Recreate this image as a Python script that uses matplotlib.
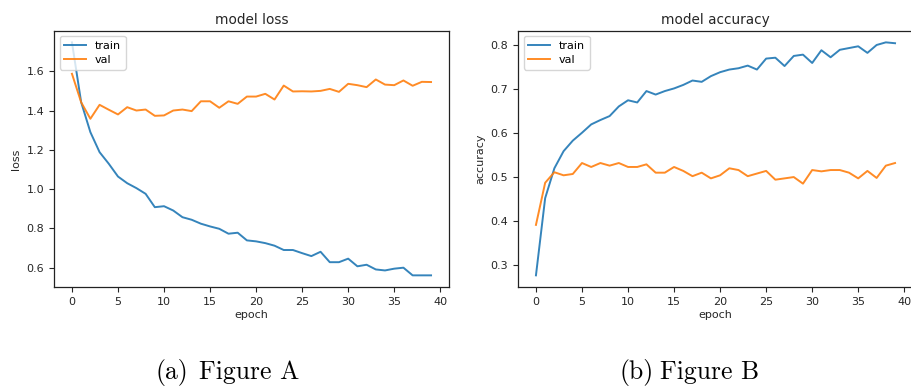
import matplotlib
matplotlib.use("Agg")
import matplotlib.pyplot as plt

epochs = list(range(40))

train_loss = [1.747, 1.442, 1.29, 1.188, 1.129, 1.064, 1.03, 1.005, 0.976, 0.908,
              0.913, 0.891, 0.857, 0.844, 0.824, 0.81, 0.798, 0.773, 0.778, 0.739,
              0.734, 0.725, 0.712, 0.69, 0.69, 0.674, 0.659, 0.681, 0.628, 0.628,
              0.646, 0.607, 0.615, 0.591, 0.586, 0.595, 0.6, 0.561, 0.561, 0.561]
val_loss = [1.587, 1.442, 1.358, 1.429, 1.404, 1.38, 1.417, 1.40, 1.405, 1.373,
            1.375, 1.40, 1.405, 1.397, 1.447, 1.447, 1.414, 1.447, 1.434, 1.471,
            1.471, 1.485, 1.456, 1.527, 1.497, 1.498, 1.497, 1.50, 1.51, 1.495,
            1.536, 1.529, 1.519, 1.558, 1.532, 1.529, 1.553, 1.526, 1.546, 1.545]

train_acc = [0.276, 0.452, 0.52, 0.559, 0.583, 0.601, 0.62, 0.63, 0.639, 0.661,
             0.675, 0.670, 0.696, 0.688, 0.696, 0.702, 0.71, 0.72, 0.717, 0.73,
             0.739, 0.745, 0.748, 0.754, 0.745, 0.77, 0.772, 0.753, 0.776, 0.779,
             0.76, 0.789, 0.773, 0.79, 0.794, 0.798, 0.783, 0.801, 0.807, 0.805]
val_acc = [0.391, 0.487, 0.511, 0.504, 0.507, 0.532, 0.523, 0.532, 0.526, 0.532,
           0.523, 0.523, 0.529, 0.51, 0.51, 0.523, 0.514, 0.502, 0.51, 0.497,
           0.504, 0.52, 0.516, 0.502, 0.508, 0.514, 0.494, 0.497, 0.5, 0.485,
           0.516, 0.513, 0.516, 0.516, 0.51, 0.497, 0.514, 0.498, 0.526, 0.532]

legend_labels = ["train", "val"]
titles = ["model loss", "model accuracy"]
ylabels = ["loss", "accuracy"]
caption_tags = ["(a)", "(b)"]
caption_texts = ["Figure A", "Figure B"]

W, H = 912, 386
fig = plt.figure(figsize=(W / 100, H / 100), dpi=100)

def px_axes(x0, y0, x1, y1):
    return fig.add_axes([x0 / W, 1 - y1 / H, (x1 - x0) / W, (y1 - y0) / H])

ax1 = px_axes(54, 30.7, 449, 287)
ax2 = px_axes(518, 30.7, 913, 287)

text_color = "#262626"
for ax, (tr, va), title, yl in zip([ax1, ax2], [(train_loss, val_loss), (train_acc, val_acc)], titles, ylabels):
    ax.plot(epochs, tr, color="#1f77b4", lw=1.4, label=legend_labels[0], alpha=0.9)
    ax.plot(epochs, va, color="#ff7f0e", lw=1.4, label=legend_labels[1], alpha=0.9)
    ax.set_title(title, fontsize=9.8, color=text_color, pad=5)
    ax.set_xlabel("epoch", fontsize=8, color=text_color, labelpad=2)
    ax.set_ylabel(yl, fontsize=8, color=text_color, labelpad=4)
    ax.tick_params(labelsize=8, colors=text_color, length=3.5, width=0.8)
    ax.set_xticks([0, 5, 10, 15, 20, 25, 30, 35, 40])
    for s in ax.spines.values():
        s.set_linewidth(0.9)
        s.set_color("#222222")
    ax.legend(loc="upper left", fontsize=8, handlelength=2.0, borderpad=0.4,
              labelspacing=0.4, handletextpad=0.8, borderaxespad=0.5)

ax1.set_yticks([0.6, 0.8, 1.0, 1.2, 1.4, 1.6])
ax2.set_yticks([0.3, 0.4, 0.5, 0.6, 0.7, 0.8])

cap_font = dict(family="cmr10", fontsize=18.5, va="baseline", ha="left")
for tag, txt, xt, xf in zip(caption_tags, caption_texts, [156, 620], [199, 660]):
    fig.text(xt / W, 1 - 379 / H, tag, **cap_font)
    fig.text(xf / W, 1 - 379 / H, txt, **cap_font)

fig.savefig("out.png", dpi=100)
